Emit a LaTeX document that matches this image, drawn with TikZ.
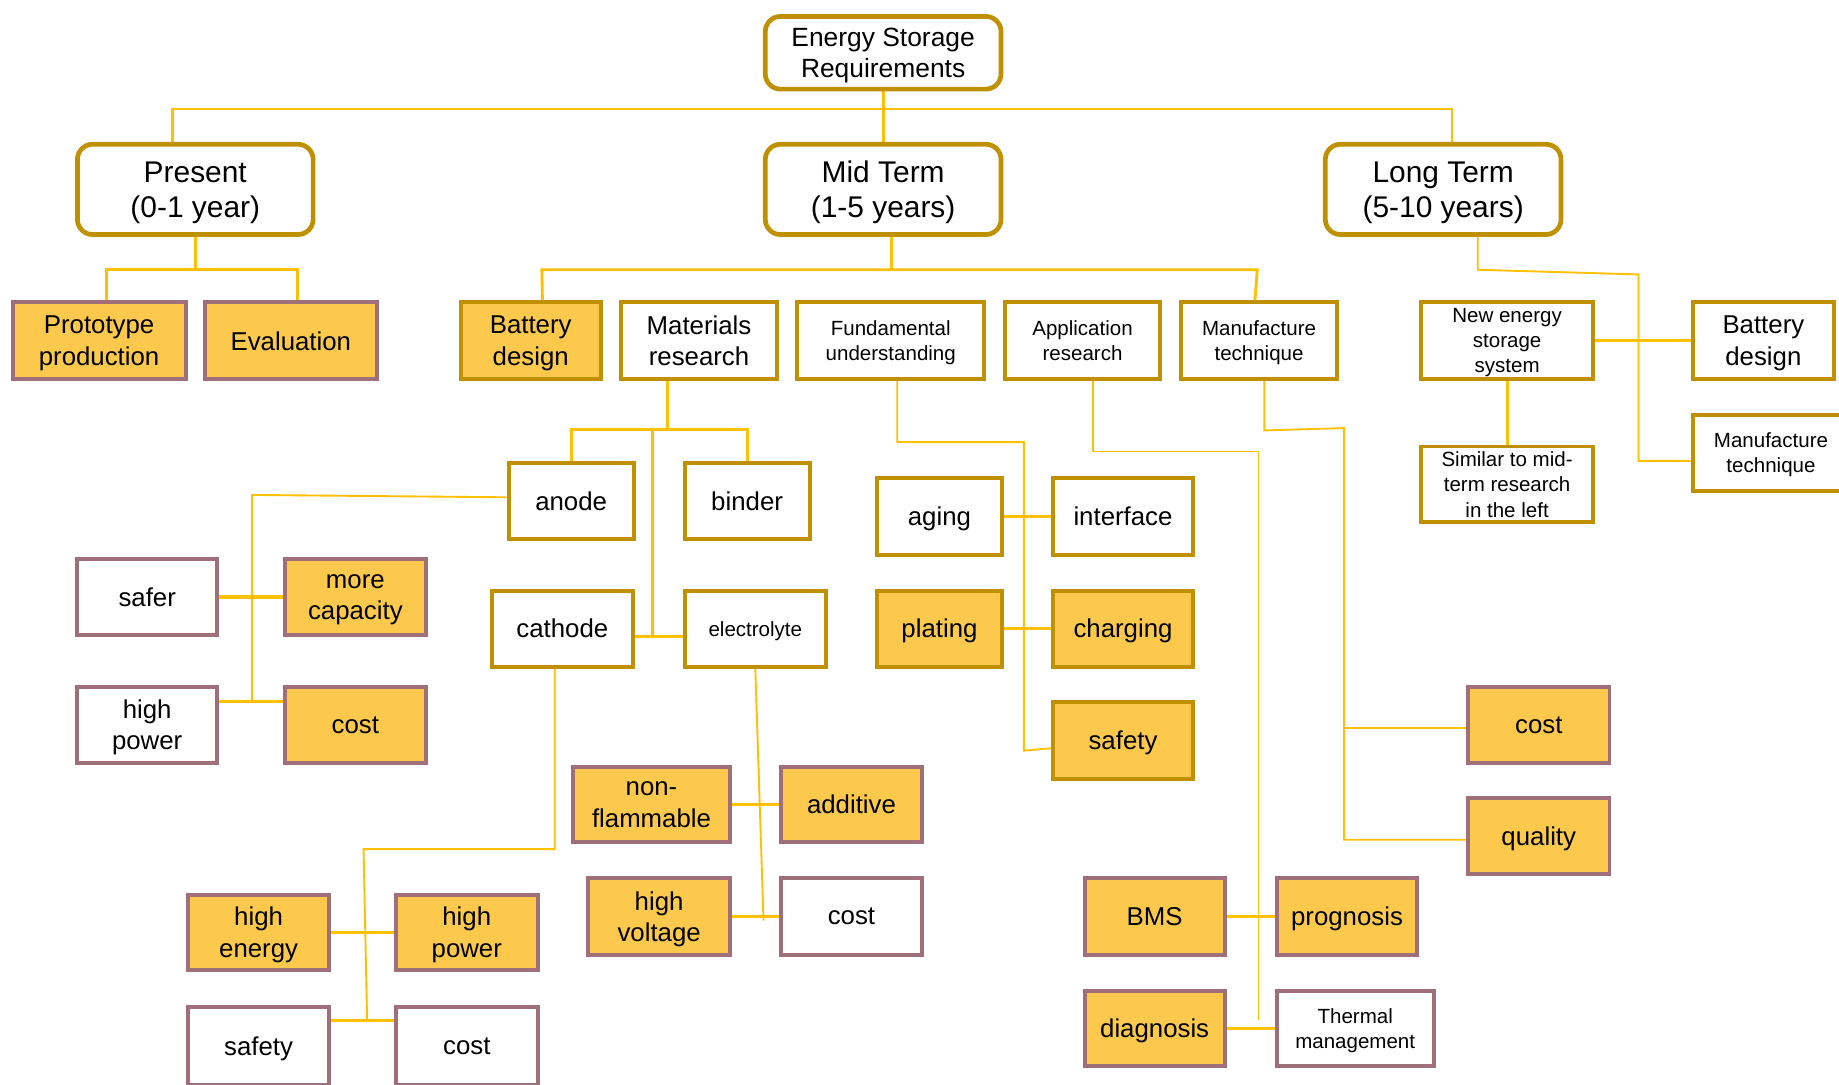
\documentclass[tikz,border=0pt]{standalone}
\usepackage{fontspec}
\setmainfont{Liberation Sans}
\usetikzlibrary{backgrounds}
\definecolor{gold}{HTML}{BF9000}
\definecolor{mauve}{HTML}{A0707A}
\definecolor{fillyel}{HTML}{FCC94C}
\definecolor{conn}{HTML}{FFC000}
\begin{document}
\begin{tikzpicture}[x=1pt,y=-1pt,
  box/.style={draw, line width=3.4pt, align=center, inner sep=1pt, text depth=0pt, fill=white, font=\fontsize{22}{27}\selectfont},
  gb/.style={box, draw=gold},
  mb/.style={box, draw=mauve},
  yf/.style={fill=fillyel},
  sm/.style={font=\fontsize{17.5}{21.5}\selectfont},
  sz/.style 2 args={minimum width=#1pt-3.4pt, minimum height=#2pt-3.4pt},
  topb/.style={draw=gold, line width=4pt, rounded corners=13pt, fill=white, align=center, inner sep=1pt, text depth=0pt, font=\fontsize{25.5}{30}\selectfont, minimum width=201pt, minimum height=77pt},
  ln/.style={draw=conn, line width=1.6pt},
  lm/.style={draw=conn, line width=2.4pt},
  lt/.style={draw=conn, line width=3pt}
]
\clip (0,0) rectangle (1568,925);

% top level
\node[topb, minimum height=62pt, font=\fontsize{22.5}{27}\selectfont] (esr) at (753,45) {Energy Storage\\Requirements};
\node[topb] (present) at (166.5,161.5) {Present\\(0-1 year)};
\node[topb] (mid) at (753,161.5) {Mid Term\\(1-5 years)};
\node[topb] (long) at (1230.5,161.5) {Long Term\\(5-10 years)};

% row 2
\node[mb, yf, sz={151}{69}] (proto) at (84.5,290.5) {Prototype\\production};
\node[mb, yf, sz={150}{69}] (eval) at (248,290.5) {Evaluation};
\node[gb, yf, sz={123}{69}] (bd1) at (452.5,290.5) {Battery\\design};
\node[gb, sz={136}{69}] (matres) at (596,290.5) {Materials\\research};
\node[gb, sm, sz={163}{69}] (fund) at (759.5,290.5) {Fundamental\\understanding};
\node[gb, sm, sz={136}{69}] (appres) at (923,290.5) {Application\\research};
\node[gb, sm, sz={137}{69}] (manu1) at (1073.5,290.5) {Manufacture\\technique};
\node[gb, sm, sz={150}{69}] (newes) at (1285,290.5) {New energy\\storage\\system};
\node[gb, sz={123}{69}] (bd2) at (1503.5,290.5) {Battery\\design};
\node[gb, sm, sz={137}{68}] (manu2) at (1510,386) {Manufacture\\technique};
\node[gb, sm, sz={150}{68}] (similar) at (1285,413) {Similar to mid-\\term research\\in the left};

% materials
\node[gb, sz={110}{68}] (anode) at (487,427) {anode};
\node[gb, sz={110}{68}] (binder) at (637,427) {binder};
\node[gb, sz={123}{68}] (cathode) at (479.5,536) {cathode};
\node[gb, sm, sz={124}{68}] (electrolyte) at (644,536) {electrolyte};

\node[mb, sz={123}{68}] (safer) at (125.5,509) {safer};
\node[mb, yf, sz={124}{68}] (morecap) at (303,509) {more\\capacity};
\node[mb, sz={123}{68}] (hipow1) at (125.5,618) {high\\power};
\node[mb, yf, sz={124}{68}] (cost1) at (303,618) {cost};

\node[mb, yf, sz={123}{68}] (hien) at (220.5,795) {high\\energy};
\node[mb, yf, sz={124}{68}] (hipow2) at (398,795) {high\\power};
\node[mb, sz={123}{70}] (safety1) at (220.5,892) {safety};
\node[mb, sz={124}{70}] (cost2) at (398,892) {cost};

\node[mb, yf, sz={137}{68}] (nonfl) at (555.5,686) {non-\\flammable};
\node[mb, yf, sz={124}{68}] (additive) at (726,686) {additive};
\node[mb, yf, sz={124}{69}] (hivolt) at (562,781.5) {high\\voltage};
\node[mb, sz={124}{69}] (cost3) at (726,781.5) {cost};

% fundamental
\node[gb, sz={110}{69}] (aging) at (801,440.5) {aging};
\node[gb, sz={123}{69}] (interface) at (957.5,440.5) {interface};
\node[gb, yf, sz={110}{68}] (plating) at (801,536) {plating};
\node[gb, yf, sz={123}{68}] (charging) at (957.5,536) {charging};
\node[gb, yf, sz={123}{69}] (safety2) at (957.5,631.5) {safety};

% application
\node[mb, yf, sz={123}{69}] (bms) at (984.5,781.5) {BMS};
\node[mb, yf, sz={123}{69}] (prog) at (1148.5,781.5) {prognosis};
\node[mb, yf, sz={123}{68}] (diag) at (984.5,877) {diagnosis};
\node[mb, sm, sz={137}{68}] (thermal) at (1155.5,877) {Thermal\\management};

% manufacture
\node[mb, yf, sz={124}{68}] (cost4) at (1312,618) {cost};
\node[mb, yf, sz={124}{68}] (quality) at (1312,713) {quality};

\begin{pgfonlayer}{background}
\fill[white] (0,0) rectangle (1568,925);
% top
\coordinate (tb) at (753,93);
\draw[lm] (esr.south) -- (mid.north);
\draw[lm] ([xshift=-19.5pt]present.north) |- (tb) -| ([xshift=7.5pt]long.north);
% present
\coordinate (pb) at (166.5,230);
\draw[lm] (present.south) -- (pb);
\draw[lm] ([xshift=6.5pt]proto.north) |- (pb) -| ([xshift=6pt]eval.north);
% mid
\coordinate (mb) at (760,230);
\coordinate (mbl) at (462,230);
\coordinate (mbr) at (1072,230);
\draw[lm] ([xshift=7pt]mid.south) -- (mb);
\draw[lm] ([xshift=10pt]bd1.north) -- (mbl) -- (mbr) -- ([xshift=-3.5pt]manu1.north);
% long
\coordinate (l1) at (1260,230);
\coordinate (l2) at (1397,234);
\coordinate (l3) at (1397,393);
\draw[ln] ([xshift=29.5pt]long.south) -- (l1) -- (l2) -- (l3) -- (manu2.west |- l3);
\draw[lt] (newes.east) -- (bd2.west);
\draw[lm] (newes.south) -- (similar.north);
% materials
\coordinate (m1) at (569,366);
\coordinate (m2) at (556,366);
\coordinate (m3) at (556,543);
\draw[lm] ([xshift=-27pt]matres.south) -- (m1);
\draw[lm] (anode.north) |- (m1) -| (binder.north);
\draw[lm] (m2) -- (m3);
\draw[lm] (cathode.east |- m3) -- (electrolyte.west |- m3);
% anode
\coordinate (a1) at (215,422);
\coordinate (a2) at (215,598);
\draw[ln] ([yshift=3pt]anode.west) -- (a1) -- (a2);
\draw[lt] (safer.east) -- (morecap.west);
\draw[lt] (hipow1.east |- a2) -- (cost1.west |- a2);
% cathode
\coordinate (c1) at (473,724);
\coordinate (c2) at (310,724);
\coordinate (c3) at (313,870);
\draw[ln] ([xshift=-6.5pt]cathode.south) -- (c1) -- (c2) -- (c3);
\draw[lm] (hien.east) -- (hipow2.west);
\draw[lm] (safety1.east |- c3) -- (cost2.west |- c3);
% electrolyte
\coordinate (e1) at (651,785);
\draw[ln] (electrolyte.south) -- (e1);
\draw[lm] (nonfl.east) -- (additive.west);
\draw[lt] (hivolt.east) -- (cost3.west);
% fundamental
\coordinate (f1) at (765,377);
\coordinate (f2) at (873,377);
\coordinate (f3) at (873,640);
\draw[ln] ([xshift=5.5pt]fund.south) -- (f1) -- (f2) -- (f3) -- ([yshift=-6.5pt]safety2.west);
\draw[lt] (aging.east) -- (interface.west);
\draw[lm] (plating.east) -- (charging.west);
% application
\coordinate (p1) at (932,385);
\coordinate (p2) at (1073,385);
\coordinate (p3) at (1073,870);
\draw[ln] ([xshift=9pt]appres.south) -- (p1) -- (p2) -- (p3);
\draw[lt] (bms.east) -- (prog.west);
\draw[lt] (diag.east) -- (thermal.west);
% manufacture
\coordinate (q1) at (1078,367);
\coordinate (q2) at (1146,365);
\coordinate (q3) at (1146,716);
\coordinate (q4) at (1146,621);
\draw[ln] ([xshift=4.5pt]manu1.south) -- (q1) -- (q2) -- (q3) -- (quality.west |- q3);
\draw[ln] (q4) -- (cost4.west |- q4);
\end{pgfonlayer}
\end{tikzpicture}
\end{document}
